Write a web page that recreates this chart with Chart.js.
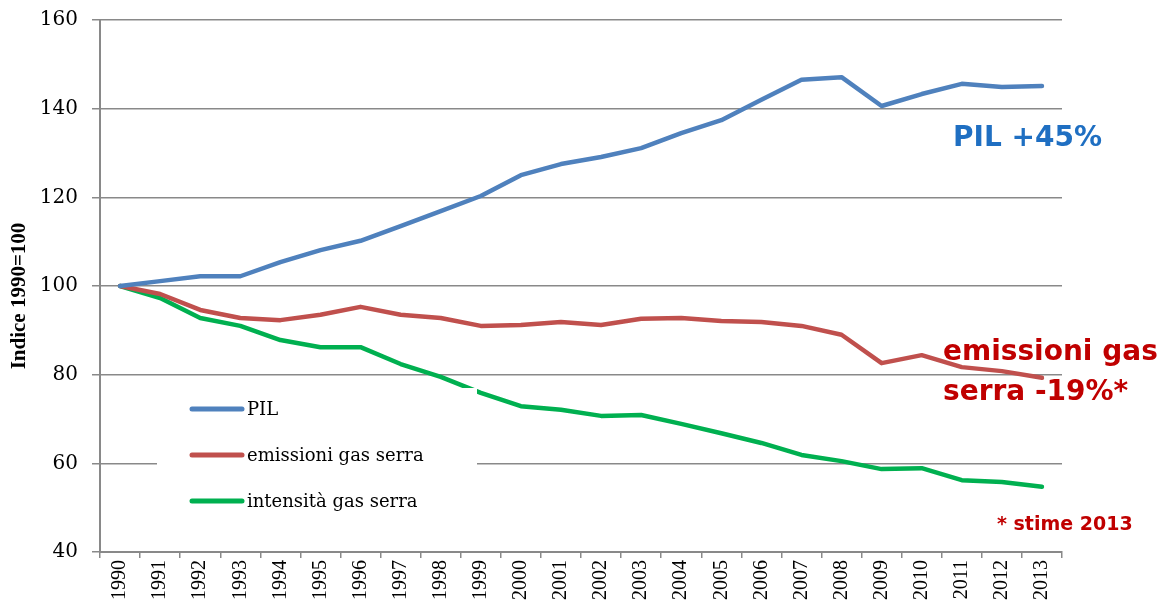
<!DOCTYPE html>
<html>
<head>
<meta charset="utf-8">
<script src="https://cdn.jsdelivr.net/npm/chart.js@4.4.1/dist/chart.umd.min.js"></script>
<style>
  html, body { margin: 0; padding: 0; background: #fff; }
  #wrap { width: 1169px; height: 602px; position: relative; }
</style>
</head>
<body>
<div id="wrap"><canvas id="chart" width="1169" height="602"></canvas></div>
<script>
// Anni e indici (1990 = 100)
const years = ['1990','1991','1992','1993','1994','1995','1996','1997','1998','1999','2000','2001',
               '2002','2003','2004','2005','2006','2007','2008','2009','2010','2011','2012','2013'];
const pil = [100, 101.1, 102.2, 102.2, 105.4, 108.1, 110.2, 113.5, 116.9, 120.3, 125.0, 127.5,
             129.1, 131.1, 134.5, 137.4, 142.0, 146.5, 147.1, 140.6, 143.3, 145.6, 144.9, 145.1];
const emissioni = [100, 98.2, 94.6, 92.8, 92.3, 93.5, 95.3, 93.5, 92.8, 91.0, 91.2, 91.9,
                   91.2, 92.6, 92.8, 92.1, 91.9, 91.0, 89.0, 82.6, 84.4, 81.7, 80.8, 79.3];
const intensita = [100, 97.3, 92.8, 91.0, 87.8, 86.2, 86.2, 82.4, 79.5, 75.9, 72.9, 72.1,
                   70.7, 70.9, 68.9, 66.8, 64.6, 61.9, 60.5, 58.7, 58.9, 56.2, 55.8, 54.7];
const yTicks = [40, 60, 80, 100, 120, 140, 160];

const gridGray = '#898989';

// legenda dentro il grafico, con sfondo bianco che copre le linee
const boxLegend = {
    id: 'boxLegend',
    afterDatasetsDraw(chart) {
        const ctx = chart.ctx;
        ctx.save();
        ctx.fillStyle = '#fff';
        ctx.fillRect(157, 388, 320, 135);
        ctx.font = '18px "DejaVu Serif"';
        ctx.textBaseline = 'alphabetic';
        chart.data.datasets.forEach((ds, i) => {
            const y = 409 + i * 46;
            ctx.strokeStyle = ds.borderColor;
            ctx.lineWidth = 5;
            ctx.lineCap = 'round';
            ctx.beginPath();
            ctx.moveTo(192, y);
            ctx.lineTo(242, y);
            ctx.stroke();
            ctx.fillStyle = '#000';
            ctx.fillText(ds.label, 247, y + 6);
        });
        ctx.restore();
    }
};

// titolo asse y e note a destra
const notes = {
    id: 'notes',
    afterDraw(chart) {
        const ctx = chart.ctx;
        ctx.save();
        ctx.translate(25, 296);
        ctx.rotate(-Math.PI / 2);
        ctx.font = 'bold 21px "Liberation Serif"';
        ctx.fillStyle = '#000';
        ctx.textAlign = 'center';
        ctx.fillText('Indice 1990=100', 0, 0);
        ctx.restore();

        ctx.save();
        ctx.textBaseline = 'alphabetic';
        ctx.font = 'bold 28px "DejaVu Sans"';
        ctx.fillStyle = '#1F6FC2';
        ctx.fillText('PIL +45%', 953, 146);
        ctx.fillStyle = '#C00000';
        ctx.font = 'bold 28px "DejaVu Sans"';
        ctx.fillText('emissioni gas', 943, 360);
        ctx.fillText('serra -19%*', 943, 400);
        ctx.font = 'bold 19px "DejaVu Sans"';
        ctx.fillText('* stime 2013', 997, 530);
        ctx.restore();
    }
};

const ctx = document.getElementById('chart').getContext('2d');
const chart = new Chart(ctx, {
    type: 'line',
    data: {
        labels: years,
        datasets: [
            { label: 'PIL', data: pil, borderColor: '#4F81BD' },
            { label: 'emissioni gas serra', data: emissioni, borderColor: '#C0504D' },
            { label: 'intensità gas serra', data: intensita, borderColor: '#00B050' }
        ]
    },
    options: {
        responsive: false,
        animation: false,
        layout: { padding: { left: 0, top: 20, right: 107, bottom: 0 } },
        elements: {
            line: { borderWidth: 4.5, tension: 0, borderCapStyle: 'round', borderJoinStyle: 'round' },
            point: { radius: 0 }
        },
        plugins: { legend: { display: false }, tooltip: { enabled: false } },
        scales: {
            x: {
                offset: true,
                grid: { drawOnChartArea: false, drawTicks: true, tickLength: 6, color: gridGray, lineWidth: 1.5, offset: true },
                border: { color: gridGray, width: 2 },
                ticks: {
                    autoSkip: false, minRotation: 90, maxRotation: 90, padding: 2,
                    color: '#000', font: { family: '"Liberation Serif", serif', size: 20 }
                },
                afterFit(scale) { scale.height = 50; scale.paddingLeft = 0; scale.paddingRight = 0; }
            },
            y: {
                min: 40, max: 160,
                afterBuildTicks(scale) { scale.ticks = yTicks.map(v => ({ value: v })); },
                grid: { color: gridGray, lineWidth: 1.5, tickLength: 8 },
                border: { color: gridGray, width: 2 },
                ticks: { padding: 14, color: '#000', font: { family: '"DejaVu Serif", serif', size: 20 } },
                afterFit(scale) { scale.width = 100; scale.paddingTop = 0; scale.paddingBottom = 0; }
            }
        }
    },
    plugins: [boxLegend, notes]
});
</script>
</body>
</html>
